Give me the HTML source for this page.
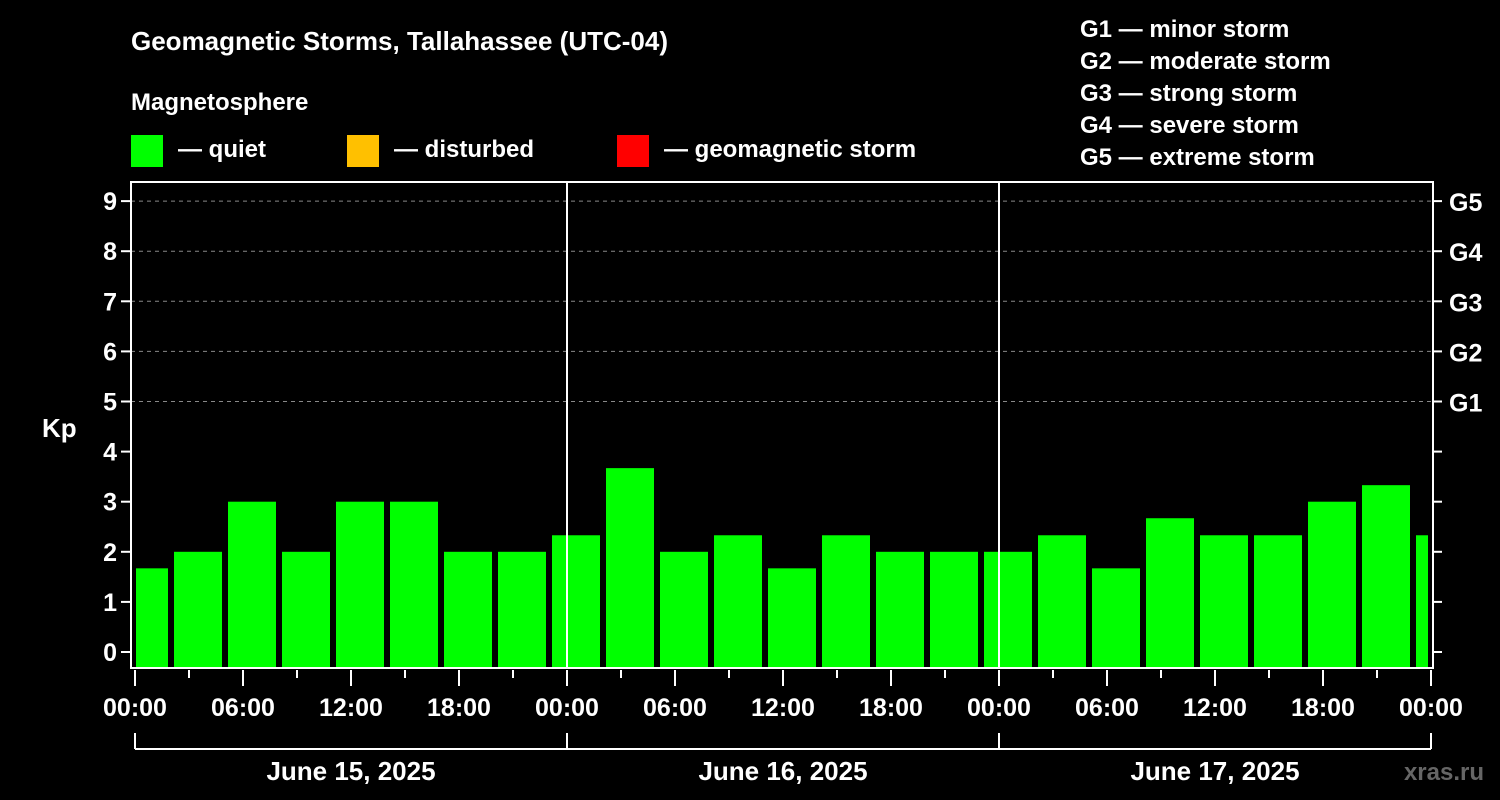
<!DOCTYPE html>
<html><head><meta charset="utf-8"><style>
body{margin:0;background:#000;}
svg{display:block;font-family:"Liberation Sans",sans-serif;font-weight:bold;}
</style></head><body>
<svg width="1500" height="800" id="chart">
<rect width="1500" height="800" fill="#000"/>
<text x="131" y="50" fill="#fff" font-size="26">Geomagnetic Storms, Tallahassee (UTC-04)</text>
<text x="131" y="110" fill="#fff" font-size="24">Magnetosphere</text>
<g><rect x="131" y="135" width="32" height="32" fill="#00ff00"/><text x="178" y="157" fill="#fff" font-size="24">— quiet</text></g>
<g><rect x="347" y="135" width="32" height="32" fill="#ffc000"/><text x="394" y="157" fill="#fff" font-size="24">— disturbed</text></g>
<g><rect x="617" y="135" width="32" height="32" fill="#ff0000"/><text x="664" y="157" fill="#fff" font-size="24">— geomagnetic storm</text></g>
<g fill="#fff" font-size="24">
<text x="1080" y="37">G1 — minor storm</text>
<text x="1080" y="69">G2 — moderate storm</text>
<text x="1080" y="101">G3 — strong storm</text>
<text x="1080" y="133">G4 — severe storm</text>
<text x="1080" y="165">G5 — extreme storm</text>
</g>
<text x="42" y="437" fill="#fff" font-size="26">Kp</text>
<text x="1484" y="780" fill="#666" font-size="24" text-anchor="end">xras.ru</text>
<g id="grid"></g><g id="bars"></g><g id="axes"></g>
</svg>
<script>
const kpValues=[1.67,2,3,2,3,3,2,2,2.33,3.67,2,2.33,1.67,2.33,2,2,2,2.33,1.67,2.67,2.33,2.33,3,3.33,2.33];
const intervalStartHours=[-1,2,5,8,11,14,17,20,23,26,29,32,35,38,41,44,47,50,53,56,59,62,65,68,71];
const yTickLabels=["0","1","2","3","4","5","6","7","8","9"];
const gLabels={5:"G1",6:"G2",7:"G3",8:"G4",9:"G5"};
const timeLabels=["00:00","06:00","12:00","18:00","00:00","06:00","12:00","18:00","00:00","06:00","12:00","18:00","00:00"];
const dayLabels=["June 15, 2025","June 16, 2025","June 17, 2025"];
const NS="http://www.w3.org/2000/svg";
const X0=135,PXH=18,Y0=652,PXK=50.1,L=131,R=1433,T=182,B=668,HMAX=72;
const x=h=>X0+h*PXH, y=k=>Y0-k*PXK;
function mk(p,tag,a){const e=document.createElementNS(NS,tag);for(const k in a)e.setAttribute(k,a[k]);p.appendChild(e);return e;}
const grid=document.getElementById('grid'),bars=document.getElementById('bars'),axes=document.getElementById('axes');
for(let k=5;k<=9;k++){const g=mk(grid,'line',{x1:L,x2:R,y1:y(k),y2:y(k),stroke:'#888','stroke-dasharray':'4 4','stroke-width':1});
}
kpValues.forEach((v,i)=>{let h0=Math.max(0,intervalStartHours[i]),h1=Math.min(HMAX,intervalStartHours[i]+3);
let x0=x(h0)+(h0===intervalStartHours[i]?3:1),x1=x(h1)-(h1===intervalStartHours[i]+3?3:3);
const c=v>=5?'#ff0000':v>=4?'#ffc000':'#00ff00';
const r=mk(bars,'rect',{x:x0,y:y(v),width:x1-x0,height:B-y(v),fill:c});
});
for(let d=1;d<3;d++){const l=mk(axes,'line',{x1:x(d*24),x2:x(d*24),y1:T,y2:B,stroke:'#fff','stroke-width':2});
}
const fr=mk(axes,'path',{d:`M${L} ${T}H${R}V${B}H${L}Z`,fill:'none',stroke:'#fff','stroke-width':2});

yTickLabels.forEach((t,k)=>{mk(axes,'line',{x1:L-10,x2:L,y1:y(k),y2:y(k),stroke:'#fff','stroke-width':2});
mk(axes,'line',{x1:R,x2:R+9,y1:y(k),y2:y(k),stroke:'#fff','stroke-width':2});
const tx=mk(axes,'text',{x:L-14,y:y(k)+9,fill:'#fff','font-size':25,'text-anchor':'end'});tx.textContent=t;

if(gLabels[k]){const g=mk(axes,'text',{x:R+16,y:y(k)+10,fill:'#fff','font-size':25});g.textContent=gLabels[k];
}});
for(let h=0;h<=HMAX;h+=3){mk(axes,'line',{x1:x(h),x2:x(h),y1:B+2,y2:B+(h%6===0?18:10),stroke:'#fff','stroke-width':2});}
timeLabels.forEach((t,i)=>{const tx=mk(axes,'text',{x:x(i*6),y:716,fill:'#fff','font-size':25,'text-anchor':'middle'});tx.textContent=t;
});
mk(axes,'line',{x1:x(0),x2:x(HMAX),y1:749,y2:749,stroke:'#fff','stroke-width':2});
for(let d=0;d<=3;d++)mk(axes,'line',{x1:x(d*24),x2:x(d*24),y1:733,y2:749,stroke:'#fff','stroke-width':2});
dayLabels.forEach((t,d)=>{const tx=mk(axes,'text',{x:x(d*24+12),y:780,fill:'#fff','font-size':26,'text-anchor':'middle'});tx.textContent=t;
});
</script>
</body></html>
